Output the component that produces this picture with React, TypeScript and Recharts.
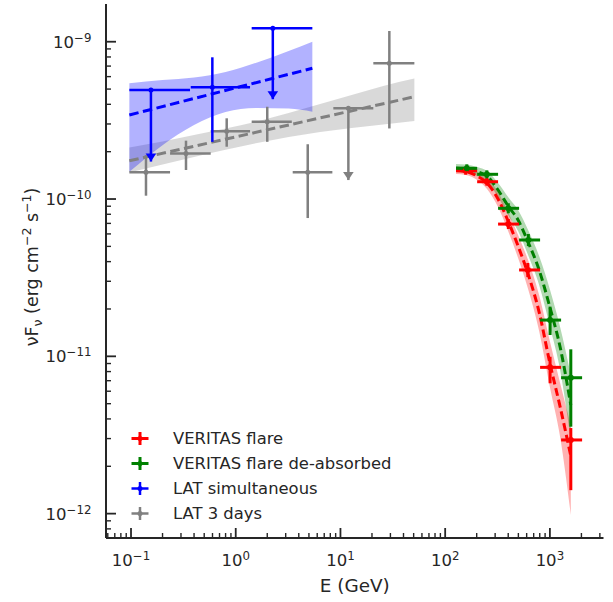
import React from "react";
import { ComposedChart, XAxis, YAxis, Scatter, ErrorBar, Line, Area } from "recharts";

// ─── Data ─────────────────────────────────────────────────────────────────────

// LAT simultaneous (blue)
const LAT_SIM_E = [0.155, 0.598, 2.26];
const LAT_SIM_E_LO = [0.0964, 0.372, 1.42];
const LAT_SIM_E_HI = [0.366, 1.37, 5.39];
const LAT_SIM_F = [4.93e-10, 5.13e-10, 1.22e-9];
const LAT_SIM_F_LO = [1.73e-10, 2.31e-10, 4.31e-10];
const LAT_SIM_F_HI = [4.93e-10, 7.96e-10, 1.22e-9];
const LAT_SIM_UL = [true, false, true];

// LAT 3 days (gray)
const LAT_3D_E = [0.139, 0.335, 0.82, 2.0, 4.87, 11.9, 29.3];
const LAT_3D_E_LO = [0.0964, 0.236, 0.577, 1.42, 3.5, 8.55, 20.6];
const LAT_3D_E_HI = [0.236, 0.577, 1.37, 3.43, 8.37, 20.6, 50.8];
const LAT_3D_F = [1.48e-10, 1.95e-10, 2.7e-10, 3.1e-10, 1.48e-10, 3.77e-10, 7.29e-10];
const LAT_3D_F_LO = [1.05e-10, 1.53e-10, 2.15e-10, 2.31e-10, 7.57e-11, 1.32e-10, 2.81e-10];
const LAT_3D_F_HI = [1.9e-10, 2.35e-10, 3.26e-10, 3.86e-10, 2.23e-10, 3.77e-10, 1.17e-9];
const LAT_3D_UL = [false, false, false, false, false, true, false];

// LAT power-law fits and butterflies
const LAT_SIM_FIT_E = [0.0964, 5.39];
const LAT_SIM_FIT_F = [3.42e-10, 6.78e-10];
const LAT_SIM_BAND_E = [0.0964, 0.2, 0.4, 0.8, 1.6, 3.2, 5.39];
const LAT_SIM_BAND_HI = [5.44e-10, 5.71e-10, 5.92e-10, 6.42e-10, 7.38e-10, 8.73e-10, 1.0e-9];
const LAT_SIM_BAND_LO = [1.49e-10, 2.2e-10, 2.95e-10, 3.57e-10, 3.79e-10, 3.76e-10, 3.59e-10];

const LAT_3D_FIT_E = [0.0964, 50.8];
const LAT_3D_FIT_F = [1.75e-10, 4.47e-10];
const LAT_3D_BAND_E = [0.0964, 0.2, 0.4, 0.8, 1.6, 3.2, 6.4, 12.8, 25.6, 50.8];
const LAT_3D_BAND_HI = [2.125e-10, 2.32e-10, 2.55e-10, 2.81e-10, 3.11e-10, 3.52e-10, 4.02e-10, 4.58e-10, 5.23e-10, 5.83e-10];
const LAT_3D_BAND_LO = [1.474e-10, 1.657e-10, 1.85e-10, 2.06e-10, 2.27e-10, 2.48e-10, 2.67e-10, 2.83e-10, 2.98e-10, 3.13e-10];

// VERITAS flare (red) and de-absorbed (green)
const VTS_E_LO = [127, 202, 320, 508, 806, 1279];
const VTS_E_HI = [202, 320, 508, 806, 1279, 2030];
const VTS_E = [157, 250, 401, 615, 1004, 1584];
const VTS_F = [1.513e-10, 1.288e-10, 6.93e-11, 3.54e-11, 8.51e-12, 2.94e-12];
const VTS_F_LO = [1.427e-10, 1.215e-10, 6.45e-11, 3.19e-11, 6.74e-12, 1.41e-12];
const VTS_F_HI = [1.604e-10, 1.366e-10, 7.46e-11, 3.92e-11, 9.94e-12, 3.5e-12];

const DEABS_E = [161, 250, 401, 623, 1004, 1584];
const DEABS_F = [1.567e-10, 1.436e-10, 8.73e-11, 5.49e-11, 1.7e-11, 7.31e-12];
const DEABS_F_LO = [1.477e-10, 1.354e-10, 8.11e-11, 5.02e-11, 1.366e-11, 3.57e-12];
const DEABS_F_HI = [1.662e-10, 1.522e-10, 9.39e-11, 5.99e-11, 2.07e-11, 1.108e-11];

const CURVE_E = [127, 158, 202, 251, 320, 399, 497, 619, 789, 1004, 1252, 1584];
const VTS_FIT_F = [1.517e-10, 1.495e-10, 1.4e-10, 1.263e-10, 1.0e-10, 7.245e-11, 5.024e-11, 3.336e-11, 1.912e-11, 8.93e-12, 4.78e-12, 2.32e-12];
const VTS_BAND_HI = [1.597e-10, 1.574e-10, 1.484e-10, 1.36e-10, 1.108e-10, 8.27e-11, 5.9e-11, 4.09e-11, 2.45e-11, 1.233e-11, 6.77e-12, 3.66e-12];
const VTS_BAND_LO = [1.441e-10, 1.42e-10, 1.321e-10, 1.158e-10, 8.9e-11, 6.26e-11, 4.22e-11, 2.68e-11, 1.448e-11, 6.29e-12, 3.07e-12, 9.8e-13];
const DEABS_FIT_F = [1.574e-10, 1.563e-10, 1.495e-10, 1.4e-10, 1.141e-10, 9.03e-11, 7.35e-11, 5.33e-11, 3.54e-11, 2.03e-11, 1.146e-11, 4.9e-12];
const DEABS_BAND_HI = [1.669e-10, 1.657e-10, 1.597e-10, 1.507e-10, 1.263e-10, 1.03e-10, 8.51e-11, 6.35e-11, 4.34e-11, 2.64e-11, 1.536e-11, 7.6e-12];
const DEABS_BAND_LO = [1.484e-10, 1.463e-10, 1.4e-10, 1.282e-10, 1.03e-10, 7.91e-11, 6.26e-11, 4.4e-11, 2.84e-11, 1.536e-11, 8.18e-12, 2.94e-12];

// Axes
const X_DOMAIN = [0.0577, 3250];
const Y_DOMAIN = [7.0e-13, 1.737e-9];
const X_DECADES = [0.01, 0.1, 1, 10, 100, 1000];
const Y_DECADES = [1e-13, 1e-12, 1e-11, 1e-10, 1e-9];
const MINOR_STEPS = [1, 2, 3, 4, 5, 6, 7, 8, 9];

const LEGEND_LABELS = ["VERITAS flare", "VERITAS flare de-absorbed", "LAT simultaneous", "LAT 3 days"];
const LEGEND_COLORS = ["#ff0000", "#008000", "#0000ff", "#808080"];

// ─── Helpers ──────────────────────────────────────────────────────────────────

const INK = "#262626";
const FONT = "'DejaVu Sans', sans-serif";

function logTicks(decades: number[], domain: number[]) {
  const out: number[] = [];
  decades.forEach((d) => MINOR_STEPS.forEach((m) => {
    const v = d * m;
    if (v >= domain[0] && v <= domain[1]) out.push(v);
  }));
  return out;
}

function isMajor(v: number) {
  const e = Math.log10(v);
  return Math.abs(e - Math.round(e)) < 1e-6;
}

function expLabel(v: number) {
  const e = Math.round(Math.log10(v));
  return e < 0 ? `\u2212${-e}` : `${e}`;
}

function points(E: number[], Elo: number[], Ehi: number[], F: number[], Flo: number[], Fhi: number[]) {
  return E.map((x, i) => ({
    x,
    y: F[i],
    ex: [x - Elo[i], Ehi[i] - x],
    ey: [F[i] - Flo[i], Fhi[i] - F[i]],
  }));
}

function arrows(E: number[], Flo: number[], ul: boolean[]) {
  return E.map((x, i) => ({ x, y: Flo[i] })).filter((_, i) => ul[i]);
}

function curve(E: number[], F: number[]) {
  return E.map((x, i) => ({ x, y: F[i] }));
}

function band(E: number[], lo: number[], hi: number[]) {
  return E.map((x, i) => ({ x, range: [lo[i], hi[i]] }));
}

const XTick = (props: any) => {
  const { x, y, payload } = props;
  const major = isMajor(payload.value);
  return (
    <g>
      <line x1={x} x2={x} y1={y} y2={y - (major ? 10 : 5)} stroke={INK} strokeWidth={major ? 1.8 : 1.4} />
      {major && (
        <text x={x} y={y + 28} textAnchor="middle" fontFamily={FONT} fontSize={16.5} fill={INK}>
          10<tspan dy={-6} fontSize={11.8}>{expLabel(payload.value)}</tspan>
        </text>
      )}
    </g>
  );
};

const YTick = (props: any) => {
  const { x, y, payload } = props;
  const major = isMajor(payload.value);
  return (
    <g>
      <line x1={x} x2={x + (major ? 10 : 5)} y1={y} y2={y} stroke={INK} strokeWidth={major ? 1.8 : 1.4} />
      {major && (
        <text x={x - 14.5} y={y + 6} textAnchor="end" fontFamily={FONT} fontSize={16.5} fill={INK}>
          10<tspan dy={-6} fontSize={11.8}>{expLabel(payload.value)}</tspan>
        </text>
      )}
    </g>
  );
};

const dot = (color: string, r: number) => (p: any) => <circle cx={p.cx} cy={p.cy} r={r} fill={color} />;
const arrowHead = (color: string) => (p: any) => (
  <path d={`M${p.cx},${p.cy} L${p.cx - 5.3},${p.cy - 8} L${p.cx + 5.3},${p.cy - 8} Z`} fill={color} />
);

const xLabel = () => (
  <text x={354.75} y={592} textAnchor="middle" fontFamily={FONT} fontSize={18.4} fill={INK}>
    E (GeV)
  </text>
);

const yLabel = () => (
  <text transform="translate(37.5,267) rotate(-90)" textAnchor="middle" fontFamily={FONT} fontSize={17.5} fill={INK}>
    νF<tspan dy={4} fontSize={12.5}>ν</tspan>
    <tspan dy={-4}> (erg cm</tspan>
    <tspan dy={-7} fontSize={12.5}>−2</tspan>
    <tspan dy={7}> s</tspan>
    <tspan dy={-7} fontSize={12.5}>−1</tspan>
    <tspan dy={7}>)</tspan>
  </text>
);

function Legend() {
  return (
    <div style={{ position: "absolute", left: 0, top: 0, pointerEvents: "none" }}>
      {LEGEND_LABELS.map((label, i) => {
        const cy = 438.7 + i * 24.9;
        const w = i < 2 ? 3 : 2.5;
        return (
          <div key={label} style={{ position: "absolute", left: 128, top: cy - 12.5, height: 25, display: "flex", alignItems: "center", whiteSpace: "nowrap" }}>
            <svg width={24} height={25}>
              <line x1={3.5} x2={20.5} y1={12.5} y2={12.5} stroke={LEGEND_COLORS[i]} strokeWidth={w} />
              <line x1={12} x2={12} y1={6} y2={19} stroke={LEGEND_COLORS[i]} strokeWidth={w} />
              <circle cx={12} cy={12.5} r={2.5} fill={LEGEND_COLORS[i]} />
            </svg>
            <span style={{ marginLeft: 21, fontFamily: FONT, fontSize: 16.4, color: INK, lineHeight: "25px" }}>{label}</span>
          </div>
        );
      })}
    </div>
  );
}

// ─── Component ────────────────────────────────────────────────────────────────

export default function App() {
  const latSim = points(LAT_SIM_E, LAT_SIM_E_LO, LAT_SIM_E_HI, LAT_SIM_F, LAT_SIM_F_LO, LAT_SIM_F_HI);
  const lat3d = points(LAT_3D_E, LAT_3D_E_LO, LAT_3D_E_HI, LAT_3D_F, LAT_3D_F_LO, LAT_3D_F_HI);
  const vts = points(VTS_E, VTS_E_LO, VTS_E_HI, VTS_F, VTS_F_LO, VTS_F_HI);
  const deabs = points(DEABS_E, VTS_E_LO, VTS_E_HI, DEABS_F, DEABS_F_LO, DEABS_F_HI);

  const axisLine = { stroke: INK, strokeWidth: 2 };

  return (
    <div style={{ position: "absolute", left: 0, top: 0, width: 613, height: 602, background: "#fff" }}>
      <ComposedChart width={613} height={602} margin={{ top: 4, right: 9.5, bottom: 0, left: 0 }}>
        <XAxis
          dataKey="x"
          type="number"
          scale="log"
          domain={X_DOMAIN}
          allowDataOverflow
          ticks={logTicks(X_DECADES, X_DOMAIN)}
          interval={0}
          tick={XTick}
          tickLine={false}
          tickSize={0}
          tickMargin={0}
          height={64}
          axisLine={axisLine}
          label={xLabel}
        />
        <XAxis xAxisId="top" orientation="top" type="number" scale="log" domain={X_DOMAIN} allowDataOverflow height={0} tick={false} tickLine={false} axisLine={axisLine} />
        <YAxis
          type="number"
          scale="log"
          domain={Y_DOMAIN}
          allowDataOverflow
          ticks={logTicks(Y_DECADES, Y_DOMAIN)}
          interval={0}
          tick={YTick}
          tickLine={false}
          tickSize={0}
          tickMargin={0}
          width={106}
          axisLine={axisLine}
          label={yLabel}
        />
        <YAxis yAxisId="right" orientation="right" type="number" scale="log" domain={Y_DOMAIN} allowDataOverflow width={0} tick={false} tickLine={false} axisLine={axisLine} />

        {/* butterflies */}
        <Area data={band(LAT_3D_BAND_E, LAT_3D_BAND_LO, LAT_3D_BAND_HI)} dataKey="range" type="monotone" fill="#808080" fillOpacity={0.3} stroke="none" isAnimationActive={false} />
        <Area data={band(LAT_SIM_BAND_E, LAT_SIM_BAND_LO, LAT_SIM_BAND_HI)} dataKey="range" type="monotone" fill="#0000ff" fillOpacity={0.3} stroke="none" isAnimationActive={false} />
        <Area data={band(CURVE_E, VTS_BAND_LO, VTS_BAND_HI)} dataKey="range" type="monotone" fill="#ff0000" fillOpacity={0.3} stroke="none" isAnimationActive={false} />
        <Area data={band(CURVE_E, DEABS_BAND_LO, DEABS_BAND_HI)} dataKey="range" type="monotone" fill="#008000" fillOpacity={0.3} stroke="none" isAnimationActive={false} />

        {/* fits */}
        <Line data={curve(LAT_3D_FIT_E, LAT_3D_FIT_F)} dataKey="y" stroke="#808080" strokeWidth={3} strokeDasharray="9.5 4.5" dot={false} isAnimationActive={false} />
        <Line data={curve(LAT_SIM_FIT_E, LAT_SIM_FIT_F)} dataKey="y" stroke="#0000ff" strokeWidth={3} strokeDasharray="9.5 4.5" dot={false} isAnimationActive={false} />
        <Line data={curve(CURVE_E, VTS_FIT_F)} dataKey="y" type="monotone" stroke="#ff0000" strokeWidth={3} strokeDasharray="8 4" dot={false} isAnimationActive={false} />
        <Line data={curve(CURVE_E, DEABS_FIT_F)} dataKey="y" type="monotone" stroke="#008000" strokeWidth={3} strokeDasharray="8 4" dot={false} isAnimationActive={false} />

        {/* data points */}
        <Scatter data={lat3d} dataKey="y" fill="#808080" shape={dot("#808080", 2.5)} isAnimationActive={false}>
          <ErrorBar dataKey="ex" direction="x" width={0} stroke="#808080" strokeWidth={2.5} isAnimationActive={false} />
          <ErrorBar dataKey="ey" direction="y" width={0} stroke="#808080" strokeWidth={2.5} isAnimationActive={false} />
        </Scatter>
        <Scatter data={arrows(LAT_3D_E, LAT_3D_F_LO, LAT_3D_UL)} dataKey="y" fill="#808080" shape={arrowHead("#808080")} isAnimationActive={false} />
        <Scatter data={latSim} dataKey="y" fill="#0000ff" shape={dot("#0000ff", 2.5)} isAnimationActive={false}>
          <ErrorBar dataKey="ex" direction="x" width={0} stroke="#0000ff" strokeWidth={2.5} isAnimationActive={false} />
          <ErrorBar dataKey="ey" direction="y" width={0} stroke="#0000ff" strokeWidth={2.5} isAnimationActive={false} />
        </Scatter>
        <Scatter data={arrows(LAT_SIM_E, LAT_SIM_F_LO, LAT_SIM_UL)} dataKey="y" fill="#0000ff" shape={arrowHead("#0000ff")} isAnimationActive={false} />
        <Scatter data={vts} dataKey="y" fill="#ff0000" shape={dot("#ff0000", 3)} isAnimationActive={false}>
          <ErrorBar dataKey="ex" direction="x" width={0} stroke="#ff0000" strokeWidth={3} isAnimationActive={false} />
          <ErrorBar dataKey="ey" direction="y" width={0} stroke="#ff0000" strokeWidth={3} isAnimationActive={false} />
        </Scatter>
        <Scatter data={deabs} dataKey="y" fill="#008000" shape={dot("#008000", 3)} isAnimationActive={false}>
          <ErrorBar dataKey="ex" direction="x" width={0} stroke="#008000" strokeWidth={3} isAnimationActive={false} />
          <ErrorBar dataKey="ey" direction="y" width={0} stroke="#008000" strokeWidth={3} isAnimationActive={false} />
        </Scatter>
      </ComposedChart>
      <Legend />
    </div>
  );
}
